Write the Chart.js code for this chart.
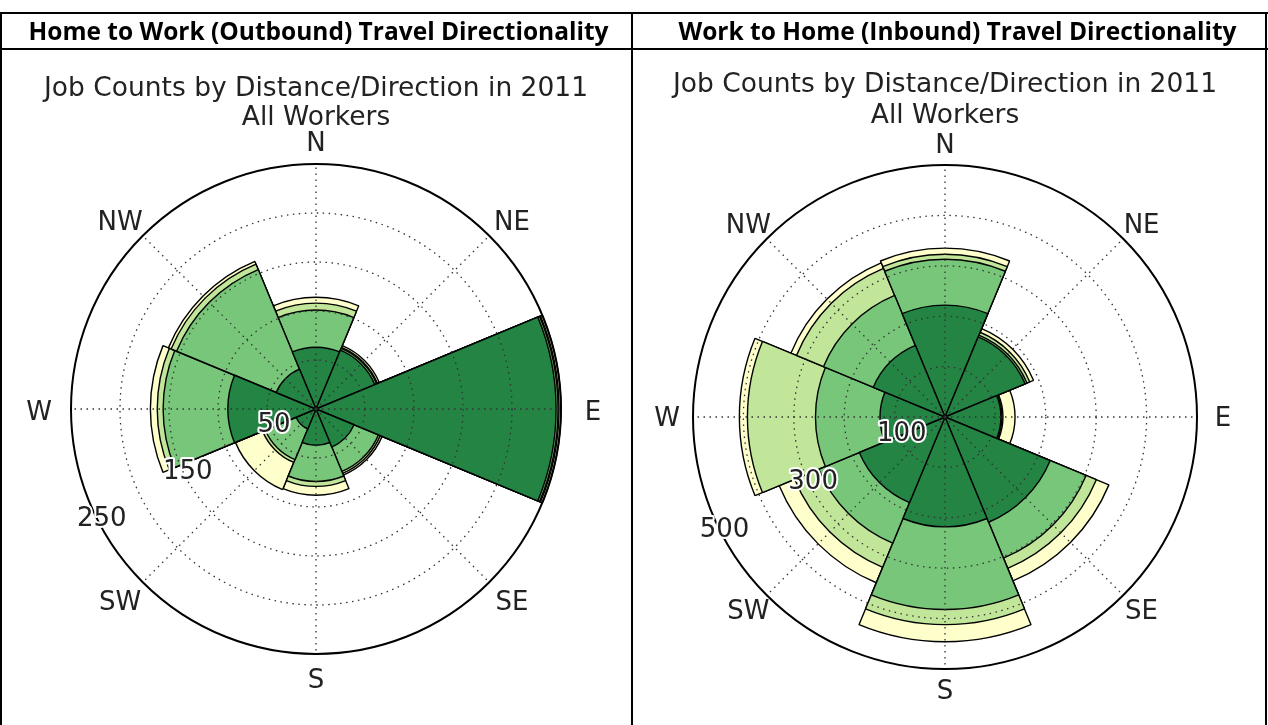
<!DOCTYPE html>
<html>
<head>
<meta charset="utf-8">
<script src="https://cdn.jsdelivr.net/npm/chart.js@4.4.1/dist/chart.umd.min.js"></script>
<style>
  html, body { margin: 0; padding: 0; background: #fff; }
  #page { position: relative; width: 1268px; height: 725px; overflow: hidden; }
  .line { position: absolute; background: #000; }
  .hdr { position: absolute; top: 14px; height: 34px; line-height: 34px; text-align: center;
         font-family: "Open Sans", "Liberation Sans", sans-serif; font-weight: 700; font-size: 24.5px; color: #000; }
  .wrap { position: absolute; top: 0; height: 725px; }
</style>
</head>
<body>
<div id="page">
  <div class="wrap" style="left:0;width:632px"><canvas id="outbound"></canvas></div>
  <div class="wrap" style="left:632px;width:636px"><canvas id="inbound"></canvas></div>

  <div class="hdr" style="left:4px;width:629px">Home to Work (Outbound) Travel Directionality</div>
  <div class="hdr" style="left:641px;width:633px">Work to Home (Inbound) Travel Directionality</div>

  <div class="line" style="left:0;top:12px;width:1268px;height:2px"></div>
  <div class="line" style="left:0;top:48px;width:1268px;height:2px"></div>
  <div class="line" style="left:0;top:12px;width:2px;height:713px"></div>
  <div class="line" style="left:631px;top:12px;width:2px;height:713px"></div>
  <div class="line" style="left:1265px;top:12px;width:2px;height:713px"></div>
</div>

<script>
// wind directions (wedges centred on each)
const directions = ['N', 'NE', 'E', 'SE', 'S', 'SW', 'W', 'NW'];
const distanceBands = ['Band 1', 'Band 2', 'Band 3', 'Band 4'];
const bandColors = ['#238443', '#78c679', '#c2e699', '#ffffcc'];

// Home to Work (Outbound) - job counts per distance band
const outBand1 = [63, 65, 245, 42, 37, 22, 90, 44];
const outBand2 = [38, 2, 2, 27, 37, 34, 66, 110];
const outBand3 = [7, 1, 1, 2, 5, 3, 6, 6];
const outBand4 = [6, 2, 2, 2, 9, 30, 7, 3];
const outMax = 250;
const outStep = 50;
const outTickLabels = [50, 150, 250];

// Work to Home (Inbound) - job counts per distance band
const inBand1 = [222, 172, 111, 226, 218, 184, 129, 154];
const inBand2 = [91, 4, 2, 77, 164, 87, 128, 107];
const inBand3 = [10, 6, 2, 22, 30, 52, 135, 58];
const inBand4 = [12, 8, 24, 27, 34, 33, 16, 12];
const inMax = 500;
const inStep = 100;
const inTickLabels = [100, 300, 500];

const titleText = ['Job Counts by Distance/Direction in 2011', 'All Workers'];
const chartFont = '"DejaVu Sans", sans-serif';

// running totals so each band sits on top of the previous ones
function stackBands(bands) {
  let run = directions.map(() => 0);
  return bands.map(b => {
    run = run.map((v, i) => v + b[i]);
    return run;
  });
}

const roseDecor = {
  id: 'roseDecor',
  afterDatasetsDraw(chart) {
    const r = chart.scales.r;
    const ctx = chart.ctx;
    ctx.save();
    ctx.strokeStyle = '#333';
    ctx.lineWidth = 1.3;
    ctx.setLineDash([1.5, 4.5]);
    directions.forEach((d, i) => {
      const a = (i * 45 - 90) * Math.PI / 180;
      ctx.beginPath();
      ctx.moveTo(r.xCenter, r.yCenter);
      ctx.lineTo(r.xCenter + r.drawingArea * Math.cos(a), r.yCenter + r.drawingArea * Math.sin(a));
      ctx.stroke();
    });
    ctx.restore();
  },
  afterDraw(chart, args, opts) {
    const r = chart.scales.r;
    const ctx = chart.ctx;
    ctx.save();
    ctx.font = '26px ' + chartFont;
    ctx.fillStyle = '#222';
    ctx.textAlign = 'center';
    ctx.textBaseline = 'middle';
    directions.forEach((d, i) => {
      const a = (i * 45 - 90) * Math.PI / 180;
      const x = r.xCenter + (r.drawingArea + opts.padX) * Math.cos(a);
      const y = r.yCenter + (r.drawingArea + opts.padY) * Math.sin(a) + opts.shiftY;
      ctx.fillText(d, x, y);
    });
    // radial tick labels along the lower-left
    const ta = (180 - 28.5) * Math.PI / 180;
    opts.ticks.forEach(t => {
      const dist = r.getDistanceFromCenterForValue(t);
      const x = r.xCenter + dist * Math.cos(ta) + 1;
      const y = r.yCenter + dist * Math.sin(ta) - 7;
      ctx.lineWidth = 4;
      ctx.strokeStyle = '#fff';
      ctx.lineJoin = 'round';
      ctx.strokeText(String(t), x, y);
      ctx.fillText(String(t), x, y);
    });
    ctx.restore();
  }
};

function makeRose(id, bands, max, step, ticks, pad, titlePad, labelPad) {
  const totals = stackBands(bands);
  new Chart(document.getElementById(id), {
    type: 'polarArea',
    data: {
      labels: directions,
      datasets: totals.map((vals, k) => ({
        label: distanceBands[k],
        data: vals,
        backgroundColor: bandColors[k],
        borderColor: '#000',
        borderWidth: 1.4
      }))
    },
    options: {
      responsive: true,
      maintainAspectRatio: false,
      animation: false,
      layout: { padding: pad },
      scales: {
        r: {
          min: 0,
          max: max,
          startAngle: -22.5,
          z: 1,
          ticks: { display: false, stepSize: step },
          grid: {
            circular: true,
            z: 1,
            color: c => c.tick && c.tick.value === max ? '#000' : '#333',
            lineWidth: c => c.tick && c.tick.value === max ? 2 : 1.3
          },
          border: { dash: c => c.tick && c.tick.value === max ? [] : [1.5, 4.5] },
          angleLines: { display: false },
          pointLabels: { display: false }
        }
      },
      plugins: {
        legend: { display: false },
        tooltip: { enabled: false },
        title: {
          display: true,
          text: titleText,
          color: '#222',
          font: { family: chartFont, size: 26.5, weight: 'normal', lineHeight: titlePad.lh },
          padding: { top: titlePad.top, bottom: titlePad.bottom }
        },
        roseDecor: { ticks: ticks, padX: labelPad.x, padY: labelPad.y, shiftY: labelPad.s }
      }
    },
    plugins: [roseDecor]
  });
}

makeRose('outbound', [outBand1, outBand2, outBand3, outBand4], outMax, outStep, outTickLabels,
  { left: 20, right: 20, top: 0, bottom: 70.5 }, { top: 74.8, bottom: 31.7, lh: 1.094 }, { x: 32, y: 23.5, s: 4 });
makeRose('inbound', [inBand1, inBand2, inBand3, inBand4], inMax, inStep, inTickLabels,
  { left: 15, right: 25, top: 0, bottom: 55.5 }, { top: 69.8, bottom: 32.7, lh: 1.17 }, { x: 26, y: 21, s: 2 });
</script>
</body>
</html>
